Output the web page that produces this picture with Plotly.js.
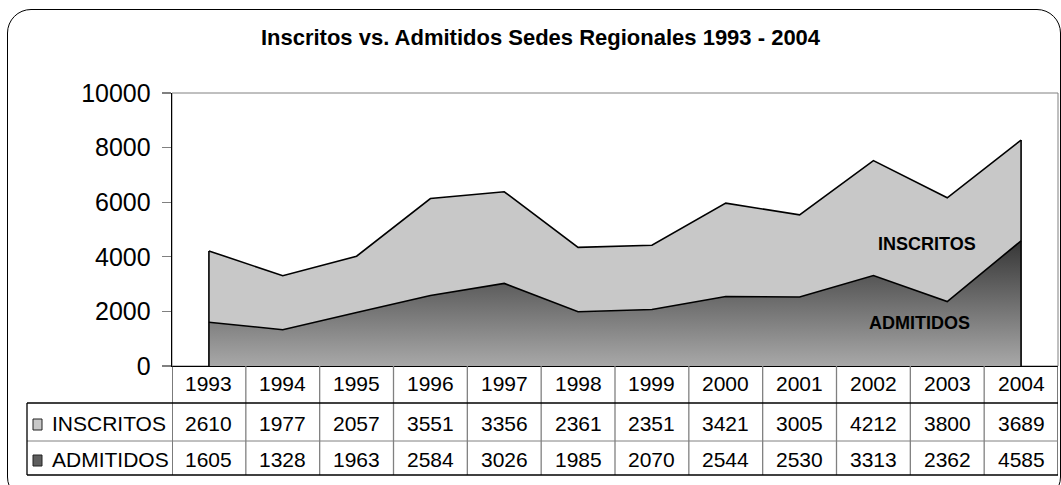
<!DOCTYPE html>
<html>
<head>
<meta charset="utf-8">
<script src="https://cdn.plot.ly/plotly-3.0.1.min.js"></script>
<style>
  html, body { margin:0; padding:0; background:#fff; }
  #wrap { position:relative; width:1061px; height:485px; overflow:hidden; }
  #chart { position:absolute; left:0; top:0; width:1061px; height:485px; }
  #frame { position:absolute; left:7px; top:9px; width:1054px; height:492px;
           border:1px solid #000; border-radius:24px; box-sizing:border-box; pointer-events:none; }
</style>
</head>
<body>
<div id="wrap"><div id="chart"></div><div id="frame"></div></div>
<script>
const years = ['1993','1994','1995','1996','1997','1998','1999','2000','2001','2002','2003','2004'];
const inscritos = [2610,1977,2057,3551,3356,2361,2351,3421,3005,4212,3800,3689];
const admitidos = [1605,1328,1963,2584,3026,1985,2070,2544,2530,3313,2362,4585];
const yTickVals = [0,2000,4000,6000,8000,10000];
const seriesNames = ['INSCRITOS','ADMITIDOS'];
const titleText = 'Inscritos vs. Admitidos Sedes Regionales 1993 - 2004';

const FONT = '"Liberation Sans", Arial, sans-serif';
const totals = admitidos.map((a,i)=>a+inscritos[i]);
const n = years.length;

const traces = [
  {
    type:'scatter', mode:'lines', name:seriesNames[1],
    x: years, y: admitidos, stackgroup:'one',
    line:{color:'#000', width:1.6},
    fillgradient:{type:'vertical', start:0, stop:Math.max(...admitidos),
                  colorscale:[[0,'#a8a8a8'],[1,'#363636']]},
    hoverinfo:'skip'
  },
  {
    type:'scatter', mode:'lines', name:seriesNames[0],
    x: years, y: inscritos, stackgroup:'one',
    line:{color:'#000', width:1.6},
    fillcolor:'#c8c8c8',
    hoverinfo:'skip'
  }
];

const shapes = [];
const annotations = [];

// plot frame (top/right grey)
shapes.push({type:'rect', xref:'paper', yref:'paper', x0:0, x1:1, y0:0, y1:1,
  line:{color:'#808080', width:1}, layer:'below'});

// vertical edges of the areas
[0, n-1].forEach(i=>{
  shapes.push({type:'line', xref:'x', yref:'y', x0:i, x1:i, y0:0, y1:totals[i],
    line:{color:'#000', width:1.6}});
});

// table geometry (pixels relative to plot bottom-left)
const rowTop = -37, row2 = -75, rowBot = -109, labelLeft = -145;
for (let i=0;i<=n;i++){
  const outer = (i===0 || i===n);
  shapes.push({type:'line', xref:'x', yref:'paper', ysizemode:'pixel', yanchor:0,
    x0:i-0.5, x1:i-0.5, y0:0, y1:rowBot,
    line:{color: outer ? '#333' : '#808080', width:1.3}});
}
shapes.push({type:'line', xref:'paper', yref:'paper', xsizemode:'pixel', xanchor:0,
  ysizemode:'pixel', yanchor:0, x0:labelLeft, x1:886, y0:rowTop, y1:rowTop, line:{color:'#000', width:1.3}});
shapes.push({type:'line', xref:'paper', yref:'paper', xsizemode:'pixel', xanchor:0,
  ysizemode:'pixel', yanchor:0, x0:labelLeft, x1:886, y0:row2, y1:row2, line:{color:'#808080', width:1}});
shapes.push({type:'line', xref:'paper', yref:'paper', xsizemode:'pixel', xanchor:0,
  ysizemode:'pixel', yanchor:0, x0:labelLeft, x1:886, y0:rowBot, y1:rowBot, line:{color:'#000', width:1.3}});
shapes.push({type:'line', xref:'paper', yref:'paper', xsizemode:'pixel', xanchor:0,
  ysizemode:'pixel', yanchor:0, x0:labelLeft, x1:labelLeft, y0:rowTop, y1:rowBot, line:{color:'#000', width:1.3}});

// legend keys
shapes.push({type:'rect', xref:'paper', yref:'paper', xsizemode:'pixel', xanchor:0,
  ysizemode:'pixel', yanchor:0, x0:-139, x1:-130, y0:-53, y1:-64,
  fillcolor:'#c8c8c8', line:{color:'#222', width:1}});
shapes.push({type:'rect', xref:'paper', yref:'paper', xsizemode:'pixel', xanchor:0,
  ysizemode:'pixel', yanchor:0, x0:-139, x1:-130, y0:-89, y1:-100,
  fillcolor:'#5e5e5e', line:{color:'#222', width:1}});

const tFont = {family:FONT, size:21, color:'#000'};
years.forEach((yr,i)=>{
  annotations.push({xref:'x', yref:'paper', x:i, y:0, yshift:-17, text:yr, showarrow:false,
    xanchor:'center', yanchor:'middle', font:tFont});
  annotations.push({xref:'x', yref:'paper', x:i, y:0, yshift:-57, text:String(inscritos[i]), showarrow:false,
    xanchor:'center', yanchor:'middle', font:tFont});
  annotations.push({xref:'x', yref:'paper', x:i, y:0, yshift:-93, text:String(admitidos[i]), showarrow:false,
    xanchor:'center', yanchor:'middle', font:tFont});
});
annotations.push({xref:'paper', yref:'paper', x:0, y:0, xshift:-122, yshift:-57, text:seriesNames[0],
  showarrow:false, xanchor:'left', yanchor:'middle', font:tFont});
annotations.push({xref:'paper', yref:'paper', x:0, y:0, xshift:-122, yshift:-93, text:seriesNames[1],
  showarrow:false, xanchor:'left', yanchor:'middle', font:tFont});

// in-area labels
const bFont = {family:FONT, size:18, color:'#000'};
annotations.push({xref:'paper', yref:'paper', x:(927-172)/886, y:(366-244)/273, text:'<b>'+seriesNames[0]+'</b>',
  showarrow:false, xanchor:'center', yanchor:'middle', font:bFont});
annotations.push({xref:'paper', yref:'paper', x:(919-172)/886, y:(366-323)/273, text:'<b>'+seriesNames[1]+'</b>',
  showarrow:false, xanchor:'center', yanchor:'middle', font:bFont});

const layout = {
  width:1061, height:485,
  margin:{l:172, r:3, t:93, b:119, pad:0},
  paper_bgcolor:'rgba(0,0,0,0)', plot_bgcolor:'#fff',
  showlegend:false,
  title:{text:'<b>'+titleText+'</b>', font:{family:FONT, size:22, color:'#000'},
         xref:'container', yref:'container', x:540.5/1061, y:1-37/485, xanchor:'center', yanchor:'middle'},
  xaxis:{type:'category', range:[-0.5, n-0.5], showticklabels:false, ticks:'',
         showgrid:false, zeroline:false, showline:true, linecolor:'#000', linewidth:1.3, fixedrange:true},
  yaxis:{range:[0,10000], tickvals:yTickVals, ticktext:yTickVals.map(String), ticks:'outside', ticklen:9,
         tickcolor:'#808080', tickwidth:1.3, showgrid:false, zeroline:false, showline:true,
         linecolor:'#000', linewidth:1.3, tickfont:{family:FONT, size:25, color:'#000'},
         ticklabelstandoff:6, fixedrange:true},
  shapes: shapes,
  annotations: annotations
};

Plotly.newPlot('chart', traces, layout, {displayModeBar:false, staticPlot:true});
</script>
</body>
</html>
